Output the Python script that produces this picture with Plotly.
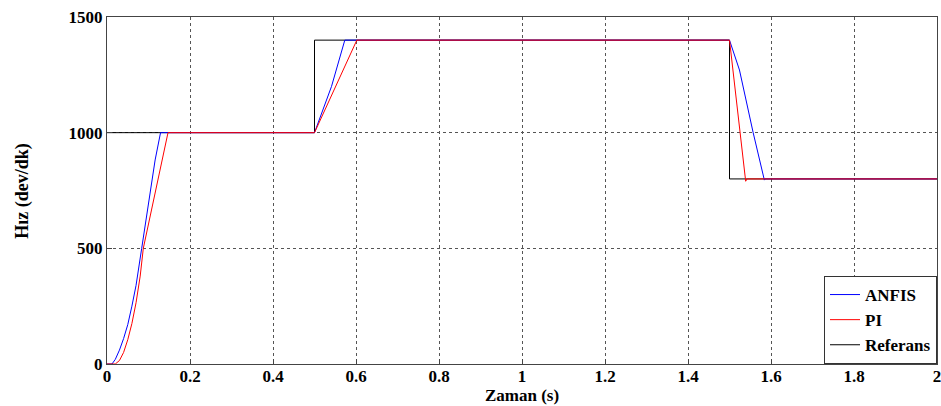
import plotly.graph_objects as go

# ANFIS response
anfis_t = [0, 0.012, 0.02, 0.03, 0.04, 0.05, 0.06, 0.07, 0.0836, 0.102, 0.116, 0.129,
           0.5, 0.541, 0.573, 1.5, 1.524, 1.557, 1.584, 1.586, 2.0]
anfis_v = [0, 0, 20, 60, 110, 170, 250, 340, 500, 709, 882, 1000,
           1000, 1200, 1400, 1400, 1271, 1000, 795, 800, 800]

# PI response
pi_t = [0, 0.02, 0.03, 0.04, 0.05, 0.06, 0.07, 0.08, 0.0875, 0.112, 0.132, 0.147,
        0.5, 0.602, 1.5, 1.539, 1.542, 2.0]
pi_v = [0, 0, 15, 50, 105, 175, 265, 380, 500, 709, 882, 1000,
        1000, 1400, 1400, 790, 800, 800]

# Reference
ref_t = [0, 0.5, 0.5, 1.5, 1.5, 2.0]
ref_v = [1000, 1000, 1400, 1400, 800, 800]

x_ticks = [0, 0.2, 0.4, 0.6, 0.8, 1, 1.2, 1.4, 1.6, 1.8, 2]
x_labels = ["0", "0.2", "0.4", "0.6", "0.8", "1", "1.2", "1.4", "1.6", "1.8", "2"]
y_ticks = [0, 500, 1000, 1500]

font_family = "Liberation Serif, Times New Roman, serif"

fig = go.Figure()
fig.add_trace(go.Scatter(x=ref_t, y=ref_v, mode="lines", name="Referans",
                         line=dict(color="black", width=1), legendrank=3))
fig.add_trace(go.Scatter(x=anfis_t, y=anfis_v, mode="lines", name="ANFIS",
                         line=dict(color="#0000ff", width=1), legendrank=1))
fig.add_trace(go.Scatter(x=pi_t, y=pi_v, mode="lines", name="PI",
                         line=dict(color="#ff0000", width=1), legendrank=2))

axis_common = dict(
    showline=True, linecolor="#444444", linewidth=1, mirror=True,
    showgrid=True, gridcolor="#555555", griddash="dot", gridwidth=1,
    ticks="inside", ticklen=5, tickcolor="#444444",
    zeroline=False, automargin=False, ticklabeloverflow="allow",
    tickfont=dict(family=font_family, size=17, color="black", weight="bold"),
)

fig.update_layout(
    width=941, height=406,
    margin=dict(l=107, r=4, t=17, b=42),
    plot_bgcolor="white", paper_bgcolor="white",
    font=dict(family=font_family, color="black"),
    xaxis=dict(range=[0, 2], tickvals=x_ticks, ticktext=x_labels,
               ticklabelstandoff=-3, **axis_common),
    yaxis=dict(range=[0, 1500], tickvals=y_ticks, **axis_common),
    legend=dict(x=1, y=0, xanchor="right", yanchor="bottom",
                bgcolor="white", bordercolor="#333333", borderwidth=1,
                font=dict(family=font_family, size=17, color="black", weight="bold"),
                tracegroupgap=0, itemwidth=30),
    showlegend=True,
    annotations=[
        dict(text="<b>Zaman (s)</b>", xref="paper", yref="paper", x=0.5, y=-0.092,
             xanchor="center", yanchor="middle", showarrow=False, borderpad=0,
             font=dict(family=font_family, size=17, color="black")),
        dict(text="<b>Hız (dev/dk)</b>", xref="paper", yref="paper", x=-0.102, y=0.5,
             xanchor="center", yanchor="middle", textangle=-90, showarrow=False,
             font=dict(family=font_family, size=18, color="black")),
    ],
)

fig.write_html("out.html", config={"displayModeBar": False},
               post_script="document.body.style.margin='0';")
